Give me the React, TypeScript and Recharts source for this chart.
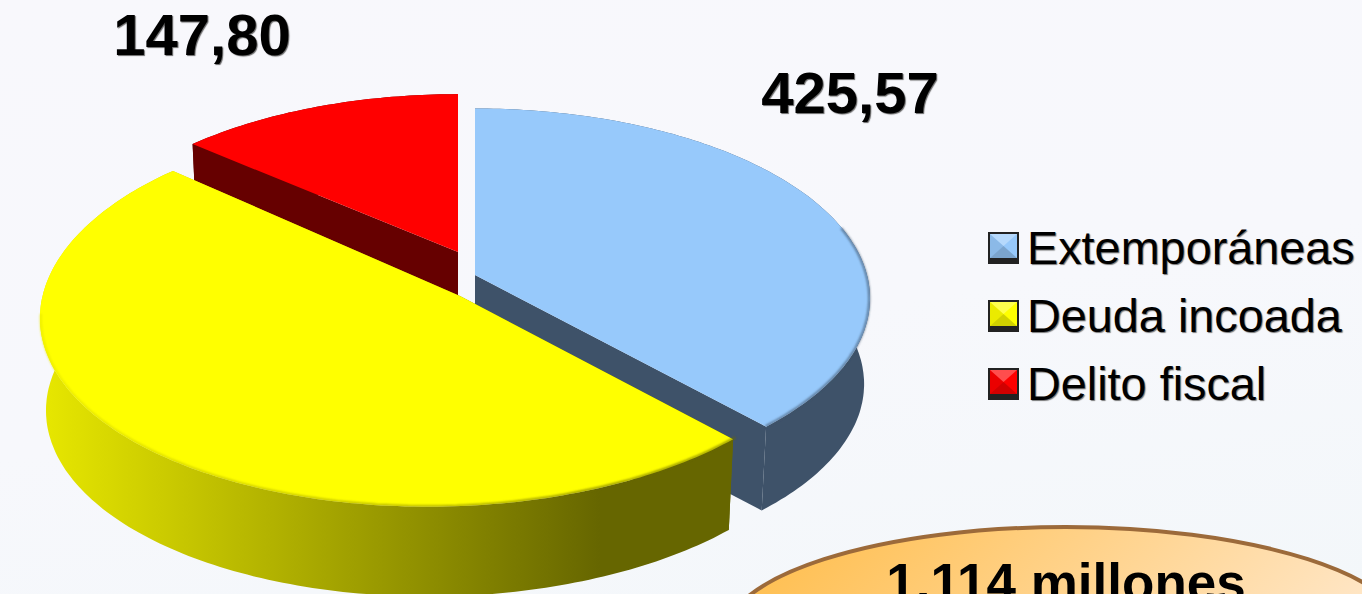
import { Legend, Pie, PieChart } from "recharts";

// drawing order is red, blue, yellow: the yellow slice has to sit on top of the other walls
const sliceNames = ["Delito fiscal", "Extemporáneas", "Deuda incoada"];
const sliceValues = [147.8, 425.57, 540.63];
const sliceColors = ["#ff0000", "#97c9fb", "#ffff00"];
const legendOrder = ["Extemporáneas", "Deuda incoada", "Delito fiscal"];
const labelledSlices = ["Delito fiscal", "Extemporáneas"];

const data = sliceNames.map((name, i) => ({
  name,
  value: sliceValues[i],
  fill: sliceColors[i],
}));

const WIDTH = 1362;
const HEIGHT = 594;
const FONT = '"Liberation Sans", Arial, sans-serif';

// fake perspective of the 3d pie
const RADIUS = 392;
const TILT = 187;
const PERSPECTIVE = 0.123;

// dx/dy move the tip of the slice, rimX/rimY move its curved edge,
// edgeTo is where the soft shaded edge of the top face stops
const sliceStyle: Record<string, any> = {
  "Delito fiscal": { dx: -6, dy: -22, rimX: 0, rimY: 7, r: 0.99, bulge: 0, depth: 86, wall: "#660000" },
  "Extemporáneas": { dx: 11, dy: 1, rimX: 0, rimY: 0, r: 1, bulge: 0, depth: 86, wall: "#3e5269", edgeFrom: 15 },
  "Deuda incoada": { dx: -4, dy: 22, rimX: -19, rimY: -9, r: 1, bulge: 0.04, depth: 93, wall: "url(#yellowWall)", edgeFrom: -47, edgeTo: -172 },
};

const labelSpots: Record<string, number[]> = {
  "Delito fiscal": [202, 55],
  "Extemporáneas": [850, 113],
};

const rim = (ax: number, ay: number, from: number, to: number, r: number, bulge: number, drop = 0) => {
  const steps = Math.max(2, Math.ceil(Math.abs(to - from)));
  const pts: number[][] = [];
  for (let i = 0; i <= steps; i++) {
    const a = ((from + ((to - from) * i) / steps) * Math.PI) / 180;
    const s = 1 / (1 + PERSPECTIVE * Math.sin(a));
    // yellow swells a bit towards the lower left in the original
    const c = Math.max(0, Math.cos(a - (240 * Math.PI) / 180));
    const k = r * (1 + bulge * c * c);
    pts.push([ax + k * RADIUS * Math.cos(a) * s, ay - TILT * k * Math.sin(a) * s + drop]);
  }
  return pts;
};

const toPath = (pts: number[][], close = true) =>
  "M" + pts.map((p) => `${p[0].toFixed(1)},${p[1].toFixed(1)}`).join("L") + (close ? "Z" : "");

function Slice3D(props: any) {
  const { cx, cy, startAngle, endAngle, fill, name } = props;
  const style = sliceStyle[name];
  const ax = cx + style.dx;
  const ay = cy + style.dy;
  const rx = ax + style.rimX;
  const ry = ay + style.rimY;
  const top = rim(rx, ry, startAngle, endAngle, style.r, style.bulge);
  const bottom = rim(rx, ry, startAngle, endAngle, style.r * 0.985, style.bulge, style.depth);
  const apex = [ax, ay];
  const apexLow = [ax, ay + style.depth];
  return (
    <g>
      <path d={toPath([...top, ...[...bottom].reverse()])} fill={style.wall} />
      <path d={toPath([apex, top[0], bottom[0], apexLow])} fill={style.wall} />
      <path
        d={toPath([apex, top[top.length - 1], bottom[bottom.length - 1], apexLow])}
        fill={style.wall}
      />
      <path d={toPath([apex, ...top])} fill={fill} />
      {style.edgeFrom !== undefined && (
        <path
          d={toPath(
            rim(rx, ry, style.edgeFrom, style.edgeTo ?? endAngle, style.r * 0.998, style.bulge),
            false
          )}
          fill="none"
          stroke={style.wall}
          strokeOpacity={0.75}
          strokeWidth={2}
          filter="url(#edgeBlur)"
        />
      )}
    </g>
  );
}

function ValueLabel(props: any) {
  const { name, value } = props;
  if (!labelledSlices.includes(name)) return null;
  const [x, y] = labelSpots[name];
  return (
    <text
      x={x}
      y={y}
      textAnchor="middle"
      fontFamily={FONT}
      fontWeight="bold"
      fontSize={58}
      fill="#000000"
      style={{ textShadow: "1px 1px 1px #666" }}
    >
      {value.toFixed(2).replace(".", ",")}
    </text>
  );
}

function LegendMarker({ color }: { color: string }) {
  return (
    <svg width={31} height={32} style={{ marginLeft: 2, marginRight: 8, flex: "none" }}>
      <rect x={0} y={0} width={31} height={32} fill="#222222" />
      <rect x={2} y={2} width={27} height={24} fill={color} />
      <polygon points="2,2 29,2 15.5,14" fill="#ffffff" fillOpacity={0.3} />
      <polygon points="2,2 2,26 15.5,14" fill="#000000" fillOpacity={0.08} />
      <polygon points="2,26 29,26 15.5,14" fill="#000000" fillOpacity={0.18} />
    </svg>
  );
}

function PieLegend({ payload }: any) {
  const items = [...(payload ?? [])].sort(
    (a: any, b: any) => legendOrder.indexOf(a.value) - legendOrder.indexOf(b.value)
  );
  return (
    <div>
      {items.map((item: any) => (
        <div
          key={item.value}
          style={{
            display: "flex",
            alignItems: "center",
            height: 68,
            fontFamily: FONT,
            fontSize: 46.8,
            color: "#000",
            whiteSpace: "nowrap",
            textShadow: "1px 1px 1px #777",
          }}
        >
          <LegendMarker color={item.color} />
          {item.value}
        </div>
      ))}
    </div>
  );
}

export default function App() {
  return (
    <div
      style={{
        position: "absolute",
        left: 0,
        top: 0,
        width: WIDTH,
        height: HEIGHT,
        overflow: "hidden",
        background: "linear-gradient(170deg, #f8f8fc 0%, #f7f8fc 55%, #f3f7fa 100%)",
      }}
    >
      <PieChart width={WIDTH} height={HEIGHT} margin={{ top: 0, right: 0, bottom: 0, left: 0 }}>
        <defs>
          <linearGradient id="yellowWall" gradientUnits="userSpaceOnUse" x1="48" y1="0" x2="600" y2="0">
            <stop offset="0%" stopColor="#e6e600" />
            <stop offset="100%" stopColor="#666600" />
          </linearGradient>
          <linearGradient id="bubbleFill" x1="0" y1="0" x2="1" y2="0.3">
            <stop offset="0%" stopColor="#ffbb44" />
            <stop offset="100%" stopColor="#ffe8cc" />
          </linearGradient>
          <filter id="edgeBlur" x="-10%" y="-10%" width="120%" height="120%">
            <feGaussianBlur stdDeviation="1.2" />
          </filter>
        </defs>
        <Pie
          data={data}
          dataKey="value"
          nameKey="name"
          cx={464}
          cy={274}
          outerRadius={RADIUS}
          startAngle={137.76}
          endAngle={-222.24}
          stroke="none"
          shape={Slice3D}
          label={ValueLabel}
          labelLine={false}
          isAnimationActive={false}
        />
        <Legend
          content={PieLegend}
          layout="vertical"
          wrapperStyle={{ position: "absolute", left: 986, top: 214, width: 376, bottom: "auto" }}
        />
        <ellipse cx={1066} cy={637} rx={342} ry={110} fill="url(#bubbleFill)" stroke="#9c6a3a" strokeWidth={4} />
        <text
          x={1066}
          y={601}
          textAnchor="middle"
          fontFamily={FONT}
          fontWeight="bold"
          fontSize={53}
          fill="#000000"
        >
          1.114 millones
        </text>
      </PieChart>
    </div>
  );
}
